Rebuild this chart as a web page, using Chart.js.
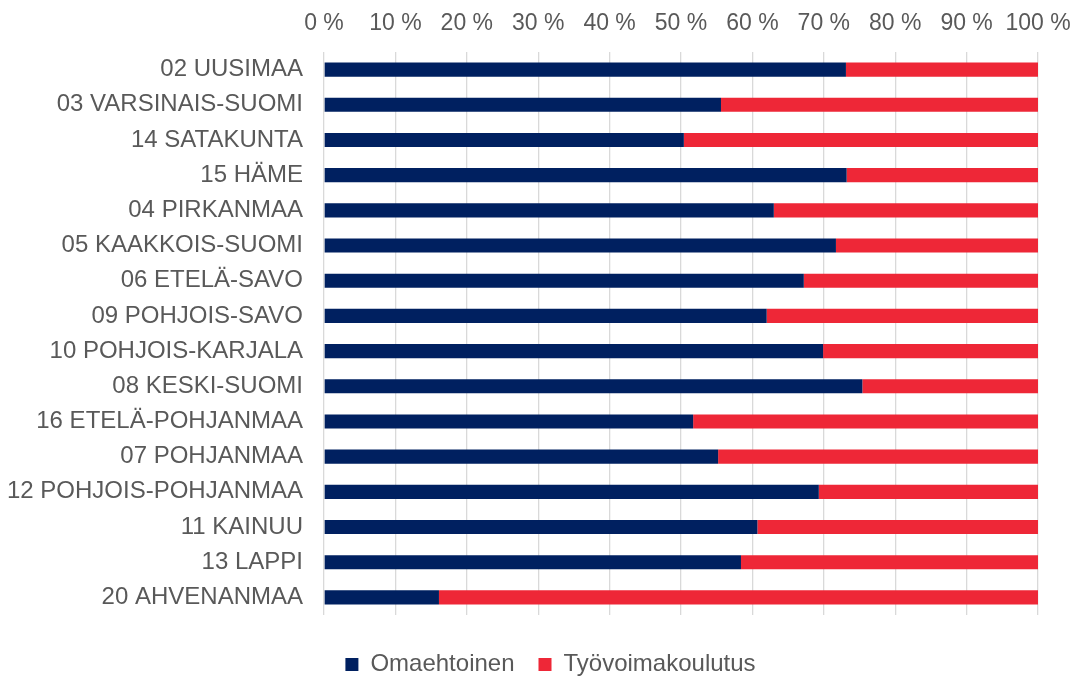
<!DOCTYPE html>
<html>
<head>
<meta charset="utf-8">
<script src="https://cdn.jsdelivr.net/npm/chart.js@4/dist/chart.umd.min.js"></script>
<style>
html,body{margin:0;padding:0;background:#fff;}
#wrap{width:1073px;height:677px;position:relative;}
</style>
</head>
<body>
<div id="wrap"><canvas id="c"></canvas></div>
<script>
const categories = [
  "02 UUSIMAA","03 VARSINAIS-SUOMI","14 SATAKUNTA","15 HÄME","04 PIRKANMAA",
  "05 KAAKKOIS-SUOMI","06 ETELÄ-SAVO","09 POHJOIS-SAVO","10 POHJOIS-KARJALA",
  "08 KESKI-SUOMI","16 ETELÄ-POHJANMAA","07 POHJANMAA","12 POHJOIS-POHJANMAA",
  "11 KAINUU","13 LAPPI","20 AHVENANMAA"
];
const omaehtoinen = [73.1,55.6,50.4,73.2,63.0,71.7,67.2,62.0,69.9,75.4,51.7,55.2,69.3,60.7,58.4,16.1];
const tyovoimakoulutus = [26.9,44.4,49.6,26.8,37.0,28.3,32.8,38.0,30.1,24.6,48.3,44.8,30.7,39.3,41.6,83.9];
const xTickLabels = ["0 %","10 %","20 %","30 %","40 %","50 %","60 %","70 %","80 %","90 %","100 %"];
const seriesNames = ["Omaehtoinen","Työvoimakoulutus"];

const FONT = "'Liberation Sans', Arial, sans-serif";
const TXT = "#595959";

const legendShift = {
  id: 'legendShift',
  afterLayout(chart) {
    const l = chart.legend;
    if (l) { l.left += 14; l.right += 14; }
  }
};

new Chart(document.getElementById('c'), {
  type: 'bar',
  data: {
    labels: categories,
    datasets: [
      {label: seriesNames[0], data: omaehtoinen, backgroundColor: '#002060', barPercentage: 0.4, categoryPercentage: 1},
      {label: seriesNames[1], data: tyovoimakoulutus, backgroundColor: '#EE2737', barPercentage: 0.4, categoryPercentage: 1}
    ]
  },
  plugins: [legendShift],
  options: {
    indexAxis: 'y',
    responsive: true,
    maintainAspectRatio: false,
    animation: false,
    layout: {padding: {top: 0, left: 0, right: 0, bottom: -9.5}},
    plugins: {
      legend: {
        position: 'bottom',
        title: {display: true, text: '', font: {size: 1, lineHeight: 1}, padding: {top: 12.5, bottom: 0}},
        labels: {
          color: TXT,
          font: {family: FONT, size: 24},
          boxWidth: 13, boxHeight: 13,
          padding: 24
        }
      },
      tooltip: {enabled: false}
    },
    scales: {
      x: {
        position: 'top',
        stacked: true,
        min: 0, max: 100,
        ticks: {
          stepSize: 10,
          color: TXT,
          font: {family: FONT, size: 23},
          padding: 15,
          maxRotation: 0,
          callback: (v, i) => xTickLabels[i]
        },
        grid: {color: '#d9d9d9', lineWidth: 1.3, drawTicks: false},
        border: {display: false},
        afterFit: s => { s.height = 52; s.paddingRight = 35; s.paddingLeft = 0; }
      },
      y: {
        stacked: true,
        ticks: {
          color: TXT,
          font: {family: FONT, size: 24},
          padding: 21,
          autoSkip: false
        },
        grid: {display: false, drawTicks: false},
        border: {display: false},
        afterFit: s => { s.width = 324; }
      }
    }
  }
});
</script>
</body>
</html>
